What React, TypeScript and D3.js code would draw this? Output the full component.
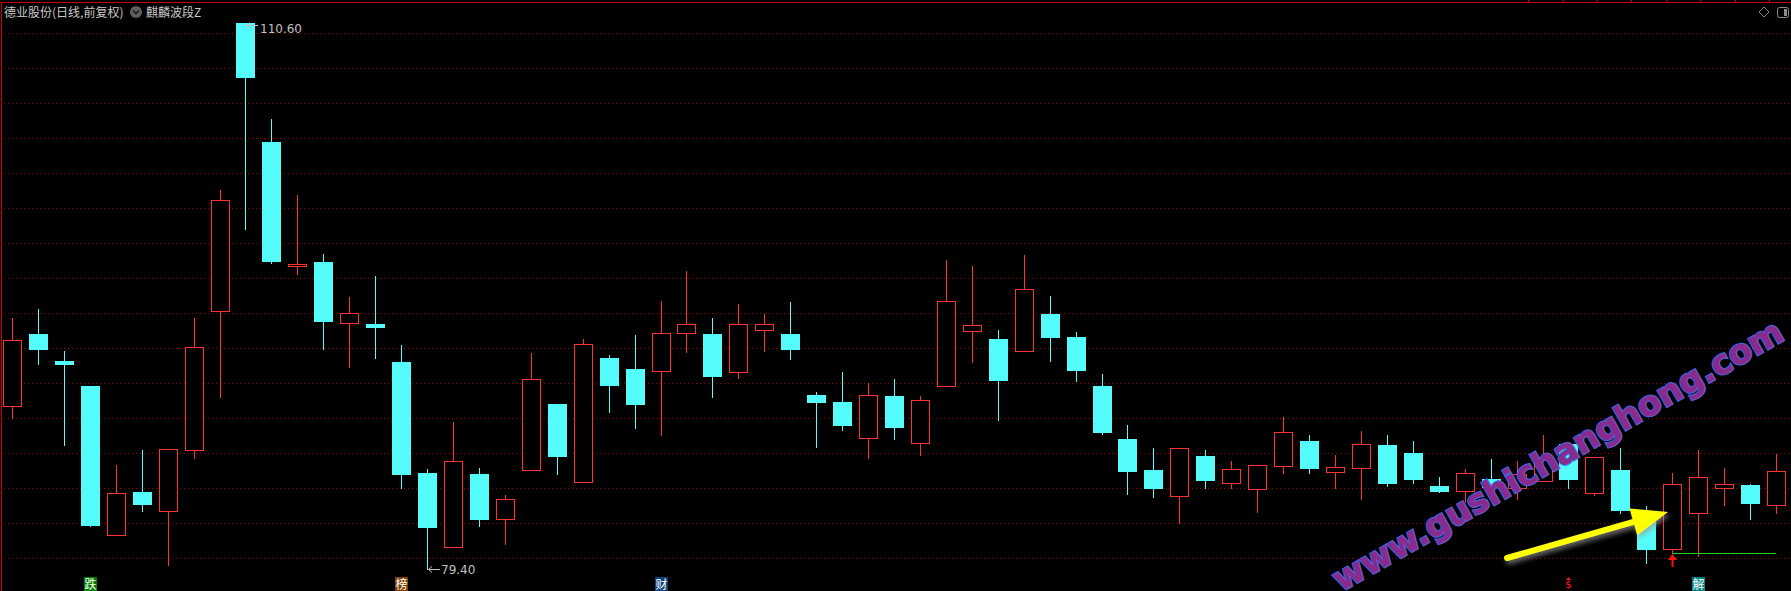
import React, { useEffect } from 'react';
import * as d3 from 'd3';

const W = 1791;
const H = 591;

// OHLC (69 daily candles)
const opens = [88.71, 92.84, 91.29, 89.87, 81.35, 83.81, 82.71, 86.19, 94.13, 110.6,
  103.78, 96.71, 96.93, 93.43, 93.39, 91.22, 84.88, 80.63, 84.82, 82.23,
  85.03, 88.82, 84.34, 91.45, 90.82, 90.69, 92.86, 92.82, 90.63, 93.03,
  92.82, 89.33, 88.93, 86.86, 89.28, 86.57, 89.83, 92.97, 92.53, 91.83,
  93.96, 92.65, 89.85, 86.82, 85.05, 83.58, 85.85, 84.32, 83.94, 85.3,
  86.7, 84.91, 85.18, 86.48, 86.02, 84.13, 83.83, 84.53, 84.0, 84.42,
  86.53, 83.71, 85.05, 82.3, 80.51, 82.57, 84.0, 84.17, 83.03];
const highs = [93.72, 94.22, 91.85, 89.87, 85.33, 86.19, 86.26, 93.72, 101.05, 110.6,
  105.1, 100.77, 97.39, 94.91, 96.13, 92.17, 85.1, 87.79, 85.16, 83.62,
  91.73, 88.82, 92.53, 91.62, 92.76, 94.7, 96.42, 93.73, 94.53, 93.96,
  94.65, 89.5, 90.65, 90.0, 90.25, 89.28, 97.05, 96.7, 93.05, 97.33,
  94.99, 92.93, 90.53, 87.62, 86.3, 86.29, 86.19, 85.56, 85.31, 88.08,
  87.05, 85.89, 87.28, 87.05, 86.7, 84.65, 85.1, 85.68, 85.54, 87.05,
  86.53, 85.77, 86.29, 83.0, 84.86, 86.17, 85.14, 84.25, 85.96];
const lows = [88.02, 91.1, 86.47, 81.85, 81.35, 82.71, 79.59, 85.74, 89.2, 98.84,
  96.86, 96.22, 91.98, 90.95, 91.47, 84.04, 79.4, 80.63, 81.87, 80.84,
  85.03, 84.84, 84.34, 88.38, 87.47, 87.07, 91.81, 89.24, 90.32, 91.87,
  91.41, 86.38, 87.35, 85.75, 86.84, 85.92, 89.83, 91.24, 87.92, 91.83,
  91.3, 90.15, 87.12, 83.7, 83.52, 82.04, 84.04, 84.04, 82.67, 84.9,
  84.9, 84.0, 83.41, 84.15, 84.32, 83.81, 83.24, 83.81, 83.39, 84.42,
  84.04, 83.64, 82.57, 79.75, 80.29, 80.15, 83.07, 82.27, 82.57];
const closes = [92.47, 91.94, 91.1, 81.89, 83.74, 83.1, 86.26, 92.09, 100.47, 107.53,
  96.97, 96.84, 93.58, 94.0, 93.24, 84.84, 81.81, 85.54, 82.27, 83.37,
  90.23, 85.87, 92.23, 89.92, 88.84, 92.86, 93.37, 90.44, 93.37, 93.37,
  91.98, 88.95, 87.64, 89.31, 87.52, 89.03, 94.7, 93.31, 90.21, 95.37,
  92.67, 90.78, 87.24, 85.01, 84.04, 86.29, 84.48, 85.09, 85.31, 87.2,
  85.16, 85.2, 86.51, 84.32, 84.55, 83.87, 84.86, 84.1, 84.8, 85.66,
  84.55, 85.77, 82.76, 80.55, 84.23, 84.63, 84.23, 83.18, 84.97];

const gridTicks = [80, 82, 84, 86, 88, 90, 92, 94, 96, 98, 100, 102, 104, 106, 108, 110];

const titleMain = '德业股份(日线,前复权)';
const titleIndicator = '麒麟波段Z';

// bottom signal markers: candle index, character, background
const signalIdx = [3, 15, 25, 65];
const signalText = ['跌', '榜', '财', '解'];
const signalBg = ['#008000', '#7a3f00', '#10407a', '#008080'];
const dollarIdx = 60;

// support line & buy arrow
const supportStartIdx = 64;
const supportLevel = 80.29;
const buyArrowIdx = 64;

const watermark = 'www.gushichanghong.com';

const UP = '#ff3232';
const DOWN = '#54fcfc';

export default function App() {
  useEffect(() => {
    document.body.style.margin = '0';
    document.body.style.background = '#000';
  }, []);

  const idx = d3.range(opens.length);
  const x = d3.scaleBand<number>().domain(idx).range([-1, 1789]).padding(0);
  const y = d3.scaleLinear().domain([80, 110]).range([558.3, 33.3]);
  const cx = (i: number) => Math.round((x(i) as number) + x.bandwidth() / 2);

  const hiI = d3.maxIndex(highs);
  const loI = d3.minIndex(lows);
  const hiX = cx(hiI);
  const hiY = Math.round(y(highs[hiI]));
  const loX = cx(loI);
  const loY = Math.round(y(lows[loI]));

  const topTicks = [1528, 1563, 1597, 1631, 1666, 1700, 1735, 1769];

  // yellow arrow geometry
  const aStart = [1507, 558];
  const aTip = [1668, 512];
  const dx = aTip[0] - aStart[0];
  const dy = aTip[1] - aStart[1];
  const len = Math.hypot(dx, dy);
  const ux = dx / len, uy = dy / len;
  const nx = -uy, ny = ux;
  const headL = 36, headW = 14;
  const bx = aTip[0] - headL * ux, by = aTip[1] - headL * uy;

  return (
    <svg width={W} height={H} style={{ position: 'absolute', left: 0, top: 0, display: 'block', background: '#000' }}
      fontFamily="'Noto Sans CJK SC', 'DejaVu Sans', sans-serif">
      <defs>
        <filter id="glow" x="-20%" y="-50%" width="140%" height="200%">
          <feDropShadow dx="2" dy="3" stdDeviation="2.5" floodColor="#9a9a9a" floodOpacity="0.7" />
        </filter>
      </defs>
      <rect x={0} y={0} width={W} height={H} fill="#000" />

      {/* borders */}
      <line x1={0} x2={W} y1={2.5} y2={2.5} stroke="#c80000" strokeWidth={1} shapeRendering="crispEdges" />
      <line x1={1.5} x2={1.5} y1={2} y2={H} stroke="#c80000" strokeWidth={1} shapeRendering="crispEdges" />
      {topTicks.map((t) => (
        <line key={t} x1={t + 0.5} x2={t + 0.5} y1={0} y2={2} stroke="#c80000" shapeRendering="crispEdges" />
      ))}

      {/* grid */}
      {gridTicks.map((t) => {
        const gy = Math.round(y(t)) + 0.5;
        return (
          <line key={t} x1={4} x2={1789} y1={gy} y2={gy} stroke="#960000" strokeWidth={1}
            strokeDasharray="1 3" shapeRendering="crispEdges" />
        );
      })}

      {/* title */}
      <text x={4} y={17} fontSize={12} fill="#c8c8c8">{titleMain}</text>
      <circle cx={136} cy={12} r={6} fill="#5e5e5e" />
      <path d="M133,10.5 L136,13.5 L139,10.5" fill="none" stroke="#1c1c1c" strokeWidth={1.6} />
      <text x={146} y={17} fontSize={12} fill="#c8c8c8">{titleIndicator}</text>

      {/* top-right icons */}
      <path d="M1764,7 L1769,12 L1764,17 L1759,12 Z" fill="none" stroke="#8c8c8c" strokeWidth={1} />
      <rect x={1777.5} y={7.5} width={11} height={10} rx={2} fill="none" stroke="#8c8c8c" strokeWidth={1} />
      <rect x={1784} y={9} width={3} height={7} fill="#8c8c8c" />

      {/* candles */}
      {idx.map((i) => {
        const o = opens[i], c = closes[i];
        const up = c >= o;
        const col = up ? UP : DOWN;
        const X = cx(i);
        const yt = Math.round(y(Math.max(o, c)));
        const yb = Math.round(y(Math.min(o, c)));
        const yh = Math.round(y(highs[i]));
        const yl = Math.round(y(lows[i]));
        const h = Math.max(1, yb - yt);
        return (
          <g key={i} shapeRendering="crispEdges">
            <line x1={X + 0.5} x2={X + 0.5} y1={yh} y2={yl + 1} stroke={col} strokeWidth={1} />
            {up ? (
              <rect x={X - 9 + 0.5} y={yt + 0.5} width={18} height={h} fill="#000" stroke={col} strokeWidth={1} />
            ) : (
              <rect x={X - 9} y={yt} width={19} height={h + 1} fill={col} />
            )}
          </g>
        );
      })}

      {/* high / low labels */}
      <g stroke="#c0c0c0" strokeWidth={1} fill="none">
        <line x1={hiX + 2} x2={hiX + 13} y1={hiY + 2.5} y2={hiY + 2.5} />
        <polyline points={`${hiX + 5},${hiY - 0.5} ${hiX + 1.5},${hiY + 2.5} ${hiX + 5},${hiY + 5.5}`} />
        <line x1={loX + 2} x2={loX + 13} y1={loY + 0.5} y2={loY + 0.5} />
        <polyline points={`${loX + 5},${loY - 2.5} ${loX + 1.5},${loY + 0.5} ${loX + 5},${loY + 3.5}`} />
      </g>
      <text x={hiX + 15} y={hiY + 10} fontSize={12} fill="#c0c0c0" fontFamily="'DejaVu Sans', sans-serif">{highs[hiI].toFixed(2)}</text>
      <text x={loX + 14} y={loY + 5} fontSize={12} fill="#c0c0c0" fontFamily="'DejaVu Sans', sans-serif">{lows[loI].toFixed(2)}</text>

      {/* support line */}
      <line x1={cx(supportStartIdx)} x2={1776} y1={Math.round(y(supportLevel)) + 0.5} y2={Math.round(y(supportLevel)) + 0.5}
        stroke="#22d022" strokeWidth={1} shapeRendering="crispEdges" />

      {/* red buy arrow */}
      {(() => {
        const X = cx(buyArrowIdx) + 0.5;
        return (
          <g>
            <line x1={X} x2={X} y1={559} y2={567} stroke="#ff1010" strokeWidth={2} />
            <path d={`M${X},554 L${X + 4.5},560 L${X - 4.5},560 Z`} fill="#ff1010" />
          </g>
        );
      })()}

      {/* bottom signals */}
      {signalIdx.map((si, k) => {
        const X = cx(si);
        return (
          <g key={k}>
            <rect x={X - 6} y={577} width={13} height={14} fill={signalBg[k]} />
            <text x={X + 0.5} y={589} fontSize={12} fill="#ffffff" textAnchor="middle">{signalText[k]}</text>
          </g>
        );
      })}
      {(() => {
        const X = cx(dollarIdx) + 0.5;
        return (
          <g fill="#ff1a1a">
            <path d={`M${X},577 L${X + 2.5},580 L${X - 2.5},580 Z`} />
            <text x={X} y={588} fontSize={10} textAnchor="middle" fontFamily="'DejaVu Sans', sans-serif">$</text>
          </g>
        );
      })()}

      {/* yellow arrow */}
      <g filter="url(#glow)">
        <line x1={aStart[0]} y1={aStart[1]} x2={bx + 2 * ux} y2={by + 2 * uy} stroke="#ffff00" strokeWidth={6} strokeLinecap="round" />
        <path d={`M${aTip[0]},${aTip[1]} L${bx + headW * nx},${by + headW * ny} L${bx - headW * nx},${by - headW * ny} Z`} fill="#ffff00" />
      </g>

      {/* watermark */}
      <text transform="translate(1341,592) rotate(-29.6)" fontSize={34} fontWeight="bold"
        fontFamily="'DejaVu Sans', sans-serif" fill="#8a2a8c" stroke="#4c5fd6" strokeWidth={2.5}
        paintOrder="stroke" textLength={512} lengthAdjust="spacing">{watermark}</text>
    </svg>
  );
}
